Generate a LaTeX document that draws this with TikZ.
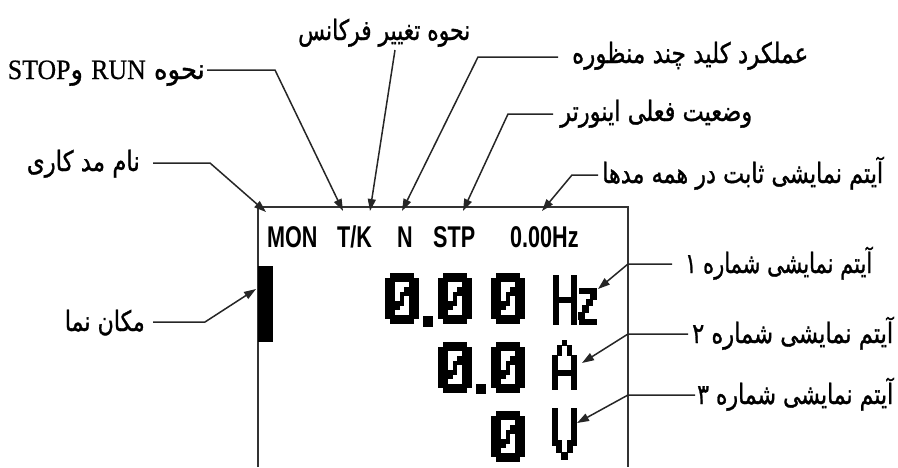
\documentclass[tikz,border=0pt]{standalone}
\usepackage{fontspec}
\usepackage{graphicx}
\usetikzlibrary{arrows.meta}
\TeXXeTstate=1
\newfontfamily\fa[Script=Arabic,FakeBold=1.2]{DejaVu Sans}
\newfontfamily\lat[FakeBold=0.6]{Liberation Serif}
\newfontfamily\lcdfont[FakeStretch=0.72]{Liberation Sans}

% 7x11 dot-matrix slashed zero; #1,#2 = top-left corner
\newcommand\lcdzero[2]{%
  \foreach \rr/\ca/\cb in {0/1/5,1/0/6,2/0/1,2/5/6,3/0/1,3/4/6,4/0/1,4/3/6,
      5/0/1,5/3/3,5/5/6,6/0/3,6/5/6,7/0/2,7/5/6,8/0/1,8/5/6,9/0/6,10/1/5}{%
    \fill (#1+\ca*4.857,#2+\rr*4.636) rectangle (#1+\cb*4.857+4.9,#2+\rr*4.636+4.7);
  }%
}

\begin{document}
\begin{tikzpicture}[x=1pt,y=-1pt,
  lead/.style={line width=1.5pt,black!85},
  tip/.style={lead,-{Triangle[length=12pt,width=8pt]}},
  frame/.style={line width=1.6pt,black!80},
  hdr/.style={inner sep=0pt,font=\lcdfont\bfseries\fontsize{30}{30}\selectfont},
  lbl/.style={inner sep=0pt,font=\fa\fontsize{28}{30}\selectfont}]
\useasboundingbox (0,0) rectangle (898,467);

% display frame (open at the bottom) and cursor block
\draw[frame] (258,467) -- (258,207) -- (628,207) -- (628,467);
\fill (258,266) rectangle (273,342);

% status line
\node[hdr,anchor=base west] (mon) at (267,247) {MON};
\node[hdr,anchor=base west] (tk)  at (337,247) {T/K};
\node[hdr,anchor=base west] (nn)  at (397,247) {N};
\node[hdr,anchor=base west] (stp) at (433,247) {STP};
\node[hdr,anchor=base west] (fhz) at (510,247) {0.00Hz};

% line 1: 0.00 Hz
\lcdzero{385}{273}
\fill (423,316) rectangle (433,327);
\lcdzero{438}{273}
\lcdzero{491}{273}
\fill (553,275) rectangle (559,325);
\fill (571,275) rectangle (577,325);
\fill (553,297) rectangle (577,303);
\fill (579,288) rectangle (597,294);
\fill (590,293) rectangle (597,300);
\fill (586,299) rectangle (593,306);
\fill (582,305) rectangle (589,313);
\fill (578,312) rectangle (585,320);
\fill (579,319) rectangle (597,325);

% line 2: 0.0 A
\lcdzero{438}{342}
\fill (476,384) rectangle (486,394);
\lcdzero{491}{342}
\fill (562,340) rectangle (567,346);
\fill (557,345) rectangle (562,356);
\fill (567,345) rectangle (572,356);
\fill (552,355) rectangle (558,390);
\fill (571,355) rectangle (577,390);
\fill (552,370) rectangle (577,376);

% line 3: 0 V
\lcdzero{491}{411}
\fill (552,408) rectangle (558,446);
\fill (571,408) rectangle (577,446);
\fill (556,440) rectangle (562,453);
\fill (567,440) rectangle (573,453);
\fill (561,452) rectangle (568,460);

% labels, each squeezed to its width
\node[lbl,anchor=base east] (runstop) at (205,79)
  {\resizebox{197pt}{\height}{\beginR نحوه {\lat RUN} و{\lat STOP}\endR}};
\node[lbl,anchor=base west] (freq) at (298,40)
  {\resizebox{172pt}{\height}{\beginR نحوه تغییر فرکانس\endR}};
\node[lbl,anchor=base west] (multi) at (572,63)
  {\resizebox{236pt}{\height}{\beginR عملکرد کلید چند منظوره\endR}};
\node[lbl,anchor=base west] (state) at (560,121)
  {\resizebox{192pt}{\height}{\beginR وضعیت فعلی اینورتر\endR}};
\node[lbl,anchor=base west] (fixed) at (602,183)
  {\resizebox{281pt}{\height}{\beginR آیتم نمایشی ثابت در همه مدها\endR}};
\node[lbl,anchor=base east] (mode) at (140,171)
  {\resizebox{113pt}{\height}{\beginR نام مد کاری\endR}};
\node[lbl,anchor=base east] (cursor) at (145,331)
  {\resizebox{80pt}{\height}{\beginR مکان نما\endR}};
\node[lbl,anchor=base west] (item1) at (685,273)
  {\resizebox{187pt}{\height}{\beginR آیتم نمایشی شماره ۱\endR}};
\node[lbl,anchor=base west] (item2) at (692,343)
  {\resizebox{201pt}{\height}{\beginR آیتم نمایشی شماره ۲\endR}};
\node[lbl,anchor=base west] (item3) at (697,404)
  {\resizebox{196pt}{\height}{\beginR آیتم نمایشی شماره ۳\endR}};

% leader start, bend and arrow-tip points
\coordinate (s1) at (207,70);  \coordinate (b1) at (275,70);  \coordinate (t1) at (343,211);
\coordinate (s2) at (395,50);                                  \coordinate (t2) at (370,211);
\coordinate (s3) at (558,57);  \coordinate (b3) at (478,57);  \coordinate (t3) at (402,211);
\coordinate (s4) at (553,114); \coordinate (b4) at (508,114); \coordinate (t4) at (463,211);
\coordinate (s5) at (598,175); \coordinate (b5) at (572,175); \coordinate (t5) at (542,211);
\coordinate (s6) at (153,163); \coordinate (b6) at (210,163); \coordinate (t6) at (266,212);
\coordinate (s7) at (153,322); \coordinate (b7) at (205,322); \coordinate (t7) at (256,289);
\coordinate (s8) at (672,264); \coordinate (b8) at (628,264); \coordinate (t8) at (598,289);
\coordinate (s9) at (688,334); \coordinate (b9) at (628,334); \coordinate (t9) at (582,363);
\coordinate (s10) at (695,395); \coordinate (b10) at (628,395); \coordinate (t10) at (577,423);

\draw[tip] (s1) -- (b1) -- (t1);
\draw[tip] (s2) -- (t2);
\draw[tip] (s3) -- (b3) -- (t3);
\draw[tip] (s4) -- (b4) -- (t4);
\draw[tip] (s5) -- (b5) -- (t5);
\draw[tip] (s6) -- (b6) -- (t6);
\draw[tip] (s7) -- (b7) -- (t7);
\draw[tip] (s8) -- (b8) -- (t8);
\draw[tip] (s9) -- (b9) -- (t9);
\draw[tip] (s10) -- (b10) -- (t10);
\end{tikzpicture}
\end{document}
